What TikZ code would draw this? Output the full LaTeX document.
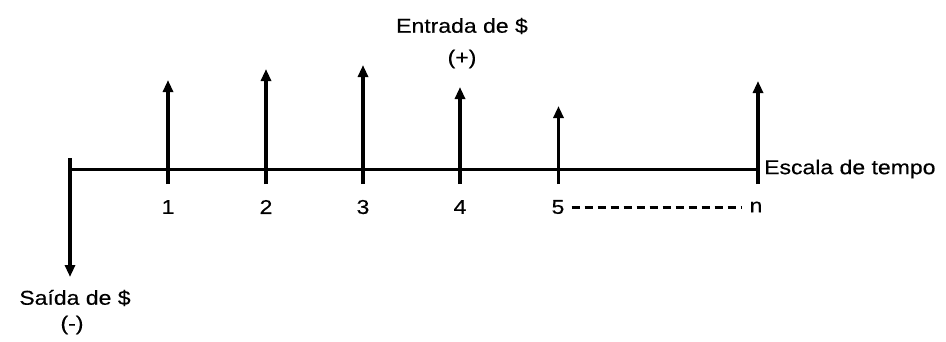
\documentclass[tikz,border=0pt]{standalone}
\usepackage{fontspec}
\setmainfont{Liberation Sans}[FakeStretch=1.15, FakeBold=0.4]
\usetikzlibrary{arrows.meta}
\tikzset{
  cash/.style={draw, line width=3.2pt, -{Triangle[length=12pt,width=10pt]}},
  label/.style={font=\fontsize{20}{24}\selectfont, inner sep=1pt},
}
\begin{document}
\begin{tikzpicture}[x=1pt, y=-1pt]
    \useasboundingbox (0,0) rectangle (946,341);

    \coordinate (O) at (70,169);
    \coordinate (N) at (758,169);
    \coordinate (S) at (70,158);
    \coordinate (Sd) at (70,277);

    \coordinate (B1) at (168,184);
    \coordinate (T1) at (168,80);
    \coordinate (B2) at (266,184);
    \coordinate (T2) at (266,69);
    \coordinate (B3) at (363,184);
    \coordinate (T3) at (363,65);
    \coordinate (B4) at (460,184);
    \coordinate (T4) at (460,87);
    \coordinate (B5) at (558.5,184);
    \coordinate (T5) at (558.5,106);
    \coordinate (Bn) at (758,184);
    \coordinate (Tn) at (758,81);

    \node at (168,207) (L1) [label] {1};
    \node at (266,207) (L2) [label] {2};
    \node at (363,207) (L3) [label] {3};
    \node at (460,207) (L4) [label] {4};
    \node at (558,207) (L5) [label] {5};
    \node at (756,207) (Ln) [label] {n};

    \node at (462,26) (In) [label] {Entrada de \$};
    \node at (462,59) (InS) [label] {(+)};
    \node at (75,298) (Out) [label] {Saída de \$};
    \node at (72,325) (OutS) [label] {(-)};
    \node [label, anchor=west] (Esc) at ([xshift=5pt]N) {Escala de tempo};

    \path[draw, line width=3pt] (O) -- (N);
    \path[cash] (S) -- (Sd);
    \path[cash] (B1) -- (T1);
    \path[cash] (B2) -- (T2);
    \path[cash] (B3) -- (T3);
    \path[cash] (B4) -- (T4);
    \path[cash, line width=3pt] (B5) -- (T5);
    \path[cash] (Bn) -- (Tn);
    \path[draw, line width=3pt, dash pattern=on 8pt off 5pt] ([xshift=6pt]L5.east) -- ([xshift=-6pt]Ln.west);

\end{tikzpicture}
\end{document}
